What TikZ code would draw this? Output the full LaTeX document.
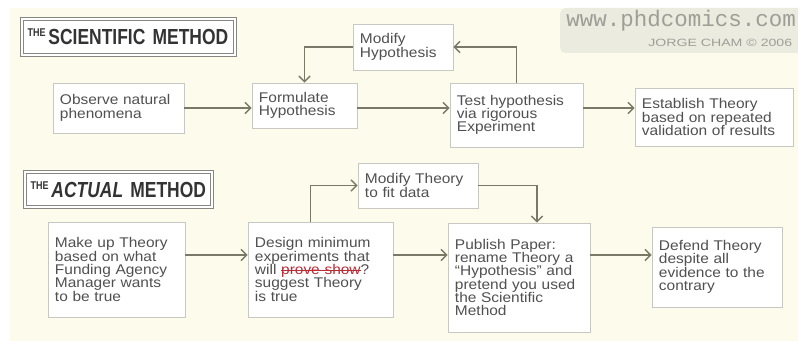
\documentclass[tikz,border=0pt]{standalone}
\usepackage{fontspec}
\setmainfont{Liberation Sans}
\newfontfamily\bodyfont[FakeStretch=1.1]{Liberation Sans}
\newfontfamily\titlefont[FakeStretch=0.8]{Liberation Sans}
\newfontfamily\markfont{Liberation Mono}
\newfontfamily\creditfont[FakeStretch=1.34]{Liberation Sans}
\usepackage{tikz}
\usetikzlibrary{arrows.meta, positioning, calc}
\usepackage{xcolor}
\definecolor{paper}{RGB}{253,251,236}
\definecolor{ink}{RGB}{80,80,80}
\definecolor{boxline}{RGB}{200,200,194}
\definecolor{flowline}{RGB}{122,120,102}
\definecolor{titleline}{RGB}{135,135,130}
\definecolor{markfill}{RGB}{236,235,224}
\definecolor{marktext}{RGB}{158,158,150}
\definecolor{strikered}{RGB}{185,45,55}
\newcommand\crossedout[1]{\setbox0=\hbox{#1}\rlap{\rule[0.28em]{\wd0}{0.5pt}}\box0}

\begin{document}
\begin{tikzpicture}[x=0.025cm, y=-0.025cm,
  stage/.style={draw=boxline, line width=0.6pt, fill=white, align=left, text=ink,
    inner xsep=5pt, inner ysep=3pt, font=\bodyfont\fontsize{10}{9.5}\selectfont},
  banner/.style={draw=titleline, line width=0.7pt, double=white, double distance=0.9pt,
    fill=white, align=left, text=black!80, inner xsep=4pt,
    font=\titlefont\bfseries\fontsize{15.5}{16}\selectfont},
  flow/.style={draw=flowline, line width=1pt, -{Straight Barb[length=4pt, width=8pt]}}]
  \useasboundingbox (0,0) rectangle (798,341);
  \clip (0,0) rectangle (798,341);
  \fill[white] (0,0) rectangle (798,341);
  \fill[paper] (10,8) rectangle (798,341);
  % watermark
  \fill[markfill, rounded corners=4pt] (560,8) rectangle (812,53);
  \node[anchor=base west, inner sep=0, text=marktext, font=\markfont\fontsize{16}{16}\selectfont] (site) at (566,27) {www.phdcomics.com};
  \node[anchor=base west, inner sep=0, text=marktext, font=\creditfont\fontsize{7.5}{7.5}\selectfont] (credit) at (648,47) {JORGE CHAM © 2006};
  % the scientific method
  \node[banner, text width=5.04cm, minimum height=0.9cm] (title1) at (128.5,37)
    {\raisebox{5.4pt}{\fontsize{8}{8}\selectfont THE}\hspace{2pt}SCIENTIFIC METHOD};
  \node[stage, text width=2.925cm, minimum height=1.25cm] (observe) at (118.5,108) {Observe natural\\phenomena};
  \node[stage, text width=2.275cm, minimum height=1.125cm] (formulate) at (304.5,105.5) {Formulate\\Hypothesis};
  \node[stage, text width=2.15cm, minimum height=1.15cm] (modhyp) at (403,47) {Modify\\Hypothesis};
  \node[stage, text width=2.975cm, minimum height=1.6cm] (test) at (516.5,115) {Test hypothesis\\via rigorous\\Experiment};
  \node[stage, text width=3.6cm, minimum height=1.45cm] (establish) at (714,117) {Establish Theory\\based on repeated\\validation of results};
  \coordinate (row1) at (0,108);
  \draw[flow] (observe.east |- row1) -- (formulate.west |- row1);
  \draw[flow] (formulate.east |- row1) -- (test.west |- row1);
  \draw[flow] (test.east |- row1) -- (establish.west |- row1);
  \draw[flow] (test.north) |- (modhyp.east);
  \draw[flow] (modhyp.west) -| (formulate.north);
  % the actual method
  \node[banner, text width=4.39cm, minimum height=0.875cm] (title2) at (118.5,189.5)
    {\raisebox{5.4pt}{\fontsize{8}{8}\selectfont THE}\hspace{2pt}\textit{ACTUAL} METHOD};
  \node[stage, text width=3.075cm, minimum height=2.375cm] (makeup) at (116.5,269.5) {Make up Theory\\based on what\\Funding Agency\\Manager wants\\to be true};
  \node[stage, text width=3.275cm, minimum height=2.375cm] (design) at (320.5,269.5) {Design minimum\\experiments that\\will \textcolor{strikered}{\crossedout{prove show}}?\\suggest Theory\\is true};
  \node[stage, text width=2.65cm, minimum height=1.125cm] (modtheory) at (418,185.5) {Modify Theory\\to fit data};
  \node[stage, text width=3.2cm, minimum height=2.725cm] (publish) at (519,277.5) {Publish Paper:\\rename Theory a\\“Hypothesis” and\\pretend you used\\the Scientific\\Method};
  \node[stage, text width=2.9cm, minimum height=2cm] (defend) at (717,267) {Defend Theory\\despite all\\evidence to the\\contrary};
  \coordinate (row2) at (0,255);
  \draw[flow] (makeup.east |- row2) -- (design.west |- row2);
  \draw[flow] (design.east |- row2) -- (publish.west |- row2);
  \draw[flow] (publish.east |- row2) -- (defend.west |- row2);
  \draw[flow] ([xshift=-7pt]design.north) |- (modtheory.west);
  \draw[flow] (modtheory.east) -| ([xshift=12.8pt]publish.north);
\end{tikzpicture}
\end{document}
